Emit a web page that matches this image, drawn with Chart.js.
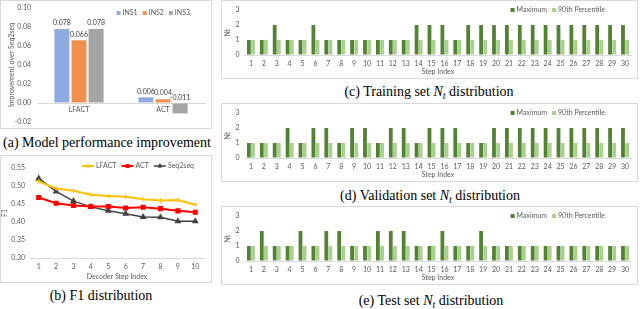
<!DOCTYPE html>
<html>
<head>
<meta charset="utf-8">
<script src="https://cdn.jsdelivr.net/npm/chart.js@4.4.0/dist/chart.umd.min.js"></script>
<style>
  body { margin: 0; background: #fff; }
  #page { position: relative; width: 640px; height: 309px; overflow: hidden; }
  .panel { position: absolute; border: 1px solid #d9d9d9; }
  .panel canvas { display: block; }
  .cap {
    position: absolute; transform: translate(-50%, -50%);
    font-family: 'Liberation Serif', 'DejaVu Serif', serif; font-size: 14px;
    color: #000; white-space: nowrap; line-height: 1;
  }
  .cap sub { font-size: 10px; }
</style>
</head>
<body>
<div id="page">
  <div class="panel" style="left:0;top:0;"><canvas id="chartA" width="210" height="127"></canvas></div>
  <div class="cap" style="left:107px;top:143px;">(a) Model performance improvement</div>

  <div class="panel" style="left:0;top:155px;"><canvas id="chartB" width="210" height="126"></canvas></div>
  <div class="cap" style="left:101px;top:296px;">(b) F1 distribution</div>

  <div class="panel" style="left:221px;top:0;"><canvas id="chartC" width="415" height="77"></canvas></div>
  <div class="cap" style="left:429px;top:93px;">(c) Training set <i>N<sub>t</sub></i> distribution</div>

  <div class="panel" style="left:221px;top:103px;"><canvas id="chartD" width="415" height="77"></canvas></div>
  <div class="cap" style="left:430px;top:197px;">(d) Validation set <i>N<sub>t</sub></i> distribution</div>

  <div class="panel" style="left:221px;top:206px;"><canvas id="chartE" width="415" height="77"></canvas></div>
  <div class="cap" style="left:431px;top:302px;">(e) Test set <i>N<sub>t</sub></i> distribution</div>
</div>
<script>
// (a) 相對 Seq2seq 的提升
const modelNames = ['LFACT', 'ACT'];
const ins1 = [0.078, 0.006];
const ins2 = [0.066, 0.004];
const ins3 = [0.078, -0.011];

// (b) F1
const decoderSteps = ['1', '2', '3', '4', '5', '6', '7', '8', '9', '10'];
const f1Lfact = [0.513, 0.493, 0.487, 0.476, 0.472, 0.470, 0.463, 0.460, 0.461, 0.448];
const f1Act = [0.468, 0.452, 0.446, 0.443, 0.443, 0.439, 0.441, 0.437, 0.431, 0.427];
const f1Seq2seq = [0.521, 0.485, 0.458, 0.442, 0.431, 0.423, 0.414, 0.413, 0.402, 0.402];

// (c)(d)(e) Nt
const stepIndex = ['1', '2', '3', '4', '5', '6', '7', '8', '9', '10', '11', '12', '13', '14', '15',
  '16', '17', '18', '19', '20', '21', '22', '23', '24', '25', '26', '27', '28', '29', '30'];
const trainMax = [1, 1, 2, 1, 1, 2, 1, 1, 1, 1, 1, 1, 1, 2, 2, 2, 1, 2, 2, 2, 2, 2, 2, 2, 2, 2, 2, 2, 2, 2];
const trainP90 = [1, 1, 1, 1, 1, 1, 1, 1, 1, 1, 1, 1, 1, 1, 1, 1, 1, 1, 1, 1, 1, 1, 1, 1, 1, 1, 1, 1, 1, 1];
const validMax = [1, 1, 1, 2, 1, 2, 2, 1, 2, 2, 1, 2, 2, 1, 2, 2, 2, 1, 1, 2, 2, 2, 2, 2, 2, 2, 2, 2, 2, 2];
const validP90 = [1, 1, 1, 1, 1, 1, 1, 1, 1, 1, 1, 1, 1, 1, 1, 1, 1, 1, 1, 1, 1, 1, 1, 1, 1, 1, 1, 1, 1, 1];
const testMax = [1, 2, 1, 1, 2, 1, 2, 2, 1, 1, 2, 2, 2, 1, 1, 2, 1, 1, 2, 1, 1, 1, 1, 1, 1, 1, 1, 1, 1, 1];
const testP90 = [1, 1, 1, 1, 1, 1, 1, 1, 1, 1, 1, 1, 1, 1, 1, 1, 1, 1, 1, 1, 1, 1, 1, 1, 1, 1, 1, 1, 1, 1];

const fontStack = 'Lato, "Liberation Sans", sans-serif';
Chart.defaults.font.family = fontStack;
Chart.defaults.font.size = 7;
Chart.defaults.color = '#595959';
Chart.defaults.animation = false;
Chart.defaults.responsive = false;
Chart.defaults.devicePixelRatio = 1;
Chart.defaults.events = [];
Chart.defaults.plugins.tooltip.enabled = false;
Chart.defaults.plugins.legend.display = false;

const axisGray = '#d9d9d9';

// y 軸不畫格線；用透明刻度把標籤推開，避免 ticks.padding 吃掉圖表上下空間
const hiddenGrid = len => ({
  display: true, drawOnChartArea: false, drawTicks: true, tickLength: len, color: 'rgba(0,0,0,0)'
});

// Excel 風格的圖例：一列，右邊對齊到 right，垂直置中在 midY
const rowLegend = (right, midY, kind) => ({
  id: 'rowLegend',
  afterDraw(chart) {
    const ctx = chart.ctx;
    const keyW = kind === 'line' ? 12 : 4;
    const gap = 5;
    ctx.save();
    ctx.font = '7px ' + fontStack;
    ctx.textBaseline = 'middle';
    const items = chart.data.datasets;
    const widths = items.map(ds => keyW + 2 + ctx.measureText(ds.label).width);
    let x = right - widths.reduce((a, b) => a + b, 0) - gap * (items.length - 1);
    items.forEach((ds, i) => {
      const color = ds.borderColor || ds.backgroundColor;
      if (kind === 'line') {
        ctx.strokeStyle = color;
        ctx.fillStyle = color;
        ctx.lineWidth = ds.borderWidth;
        ctx.beginPath();
        ctx.moveTo(x, midY);
        ctx.lineTo(x + keyW, midY);
        ctx.stroke();
        ctx.lineWidth = 1;
        Chart.helpers.drawPoint(ctx, { pointStyle: ds.pointStyle, radius: 2.2, rotation: 0, borderWidth: 1 }, x + keyW / 2, midY);
      } else {
        ctx.fillStyle = ds.backgroundColor;
        ctx.fillRect(x, midY - 2, 4, 4);
      }
      ctx.fillStyle = '#595959';
      ctx.fillText(ds.label, x + keyW + 2, midY);
      x += widths[i] + gap;
    });
    ctx.restore();
  }
});

// 長條上方的數值標籤
const barValues = {
  id: 'barValues',
  afterDatasetsDraw(chart) {
    const ctx = chart.ctx;
    ctx.save();
    ctx.font = '7px ' + fontStack;
    ctx.fillStyle = '#404040';
    ctx.textAlign = 'center';
    ctx.textBaseline = 'middle';
    chart.data.datasets.forEach((ds, i) => {
      chart.getDatasetMeta(i).data.forEach((bar, j) => {
        ctx.fillText(ds.data[j].toFixed(3), bar.x, Math.min(bar.y, bar.base) - 6);
      });
    });
    ctx.restore();
  }
};

// (a)
new Chart(document.getElementById('chartA'), {
  type: 'bar',
  data: {
    labels: modelNames,
    datasets: [
      { label: 'INS1', data: ins1, backgroundColor: '#8FAADC' },
      { label: 'INS2', data: ins2, backgroundColor: '#F0904F' },
      { label: 'INS3', data: ins3, backgroundColor: '#A5A5A5' }
    ]
  },
  options: {
    datasets: { bar: { categoryPercentage: 0.61, barPercentage: 0.88 } },
    layout: { padding: { top: 7, right: 6, bottom: 6, left: 0 } },
    scales: {
      x: {
        position: { y: 0 },
        grid: { display: false, drawTicks: false },
        border: { color: axisGray },
        ticks: { padding: 3 }
      },
      y: {
        min: -0.02,
        max: 0.1,
        ticks: { stepSize: 0.02, padding: 1, callback: v => v.toFixed(2) },
        grid: hiddenGrid(5),
        border: { display: false },
        title: { display: true, text: 'Improvement over Seq2seq', padding: { top: 7, bottom: 0 } },
        afterFit: s => { s.width = 36; }
      }
    }
  },
  plugins: [barValues, rowLegend(189, 12, 'box')]
});

// (b)
new Chart(document.getElementById('chartB'), {
  type: 'line',
  data: {
    labels: decoderSteps,
    datasets: [
      { label: 'LFACT', data: f1Lfact, borderColor: '#FFC000', backgroundColor: '#FFC000',
        borderWidth: 2, pointStyle: 'cross', pointRadius: 2.5, pointBorderWidth: 1 },
      { label: 'ACT', data: f1Act, borderColor: '#FF0000', backgroundColor: '#FF0000',
        borderWidth: 2, pointStyle: 'rect', pointRadius: 2.2 },
      { label: 'Seq2seq', data: f1Seq2seq, borderColor: '#404040', backgroundColor: '#404040',
        borderWidth: 1.5, pointStyle: 'triangle', pointRadius: 2.5 }
    ]
  },
  options: {
    layout: { padding: { top: 12, right: 7, bottom: 0, left: 0 } },
    scales: {
      x: {
        offset: true,
        grid: { display: false, drawTicks: false },
        border: { color: axisGray },
        ticks: { padding: 5 },
        title: { display: true, text: 'Decoder Step Index', padding: { top: 0, bottom: 1 } },
        afterFit: s => { s.height = 24; }
      },
      y: {
        min: 0.3,
        max: 0.55,
        ticks: { stepSize: 0.05, padding: 1, callback: v => v.toFixed(2) },
        grid: hiddenGrid(4),
        border: { display: false },
        title: { display: true, text: 'F1', padding: 0 },
        afterFit: s => { s.width = 29; }
      }
    }
  },
  plugins: [rowLegend(193, 10, 'line')]
});

// (c)(d)(e) 同一種長條圖
function ntChart(id, maxData, p90Data) {
  return new Chart(document.getElementById(id), {
    type: 'bar',
    data: {
      labels: stepIndex,
      datasets: [
        { label: 'Maximum', data: maxData, backgroundColor: '#548235' },
        { label: '90th Percentile', data: p90Data, backgroundColor: '#A9D18E' }
      ]
    },
    options: {
      datasets: { bar: { categoryPercentage: 0.64, barPercentage: 0.92 } },
      layout: { padding: { top: 9, right: 5.5, bottom: 0, left: 0 } },
      scales: {
        x: {
          grid: { display: false, drawTicks: false },
          border: { color: axisGray },
          ticks: { autoSkip: false, maxRotation: 0, padding: 5 },
          title: { display: true, text: 'Step Index', padding: { top: 0, bottom: 2 } },
          afterFit: s => { s.height = 23; }
        },
        y: {
          min: 0,
          max: 3,
          ticks: { stepSize: 1, padding: 1 },
          grid: hiddenGrid(4),
          border: { display: false },
          title: { display: true, text: 'Nt', padding: { top: 2, bottom: 0 } },
          afterFit: s => { s.width = 22.5; }
        }
      }
    },
    plugins: [rowLegend(383, 9, 'box')]
  });
}

ntChart('chartC', trainMax, trainP90);
ntChart('chartD', validMax, validP90);
ntChart('chartE', testMax, testP90);
</script>
</body>
</html>
